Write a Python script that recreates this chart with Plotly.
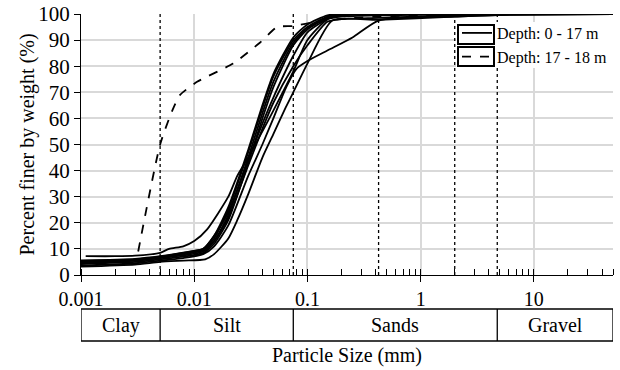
import numpy as np
import plotly.graph_objects as go

# ---- data (particle size in mm, percent finer) ----
c1_d = [0.0011, 0.002, 0.003, 0.005, 0.006, 0.008, 0.010, 0.013, 0.020, 0.024, 0.030, 0.040, 0.050, 0.075, 0.100, 0.150, 0.200, 0.425, 50]
c1_p = [7.2, 7.2, 7.4, 8.5, 10.0, 11.0, 13.0, 17.5, 30.0, 38.0, 45.0, 55.0, 63.0, 78.0, 90.0, 98.0, 99.5, 100, 100]

c2_d = [0.001, 0.003, 0.005, 0.008, 0.012, 0.015, 0.020, 0.030, 0.040, 0.050, 0.075, 0.100, 0.150, 0.200, 50]
c2_p = [5.0, 5.8, 6.8, 8.0, 9.5, 14.0, 25.0, 47.0, 64.0, 76.0, 90.0, 95.0, 99.0, 100, 100]

c3_d = [0.001, 0.003, 0.005, 0.008, 0.012, 0.015, 0.020, 0.030, 0.040, 0.050, 0.075, 0.100, 0.150, 0.200, 50]
c3_p = [4.5, 5.5, 6.5, 7.5, 9.0, 13.0, 23.0, 45.0, 62.0, 74.0, 89.0, 94.5, 98.5, 99.8, 100]

c4_d = [0.001, 0.003, 0.005, 0.008, 0.012, 0.015, 0.020, 0.030, 0.040, 0.050, 0.075, 0.100, 0.150, 0.250, 50]
c4_p = [4.2, 5.0, 6.0, 7.0, 8.5, 12.0, 21.0, 43.0, 60.0, 72.0, 88.0, 94.0, 98.5, 99.8, 100]

c5_d = [0.001, 0.003, 0.005, 0.008, 0.012, 0.015, 0.020, 0.030, 0.040, 0.050, 0.075, 0.100, 0.150, 0.200, 0.425, 4.75, 50]
c5_p = [5.3, 6.0, 7.0, 8.5, 10.0, 15.0, 24.0, 44.0, 58.0, 68.0, 84.0, 93.0, 98.0, 99.0, 99.5, 100, 100]

c6_d = [0.001, 0.003, 0.005, 0.008, 0.012, 0.015, 0.020, 0.030, 0.040, 0.050, 0.065, 0.080, 0.100, 0.150, 0.250, 0.425, 2.0, 4.75, 50]
c6_p = [3.6, 4.5, 5.5, 6.5, 8.0, 11.0, 19.0, 38.0, 50.0, 60.0, 72.0, 79.0, 82.0, 86.0, 91.0, 97.5, 99.0, 99.6, 100]

c7_d = [0.001, 0.003, 0.005, 0.008, 0.0125, 0.015, 0.020, 0.024, 0.030, 0.040, 0.050, 0.064, 0.075, 0.100, 0.166, 0.425, 2.0, 4.75, 50]
c7_p = [3.2, 4.0, 5.0, 5.5, 6.0, 8.0, 14.0, 21.0, 31.0, 45.0, 54.0, 64.0, 70.0, 81.0, 97.5, 97.8, 99.0, 99.6, 100]

c8_d = [0.001, 0.003, 0.005, 0.008, 0.012, 0.015, 0.020, 0.030, 0.040, 0.050, 0.075, 0.100, 0.150, 0.200, 0.425, 4.75, 50]
c8_p = [4.8, 5.6, 6.6, 8.0, 9.5, 13.0, 22.0, 42.0, 56.0, 66.0, 80.0, 88.0, 97.0, 98.0, 98.5, 100, 100]

c9_d = [0.001, 0.003, 0.005, 0.008, 0.012, 0.015, 0.020, 0.030, 0.040, 0.050, 0.075, 0.100, 0.150, 0.200, 50]
c9_p = [5.6, 6.2, 7.2, 8.6, 10.0, 15.0, 26.0, 48.0, 65.0, 77.0, 91.0, 96.0, 99.5, 100, 100]

deep_d = [0.0032, 0.005, 0.0064, 0.0075, 0.0106, 0.022, 0.038, 0.054, 0.075, 0.12, 0.25, 1.0, 5.0, 50]
deep_p = [9.0, 50.0, 63.0, 69.0, 74.0, 81.0, 89.0, 95.0, 95.4, 97.0, 98.5, 99.5, 100, 100]

shallow_curves = [(c1_d, c1_p), (c2_d, c2_p), (c3_d, c3_p), (c4_d, c4_p), (c5_d, c5_p),
                  (c6_d, c6_p), (c7_d, c7_p), (c8_d, c8_p), (c9_d, c9_p)]

boundary_sizes = [0.005, 0.075, 0.425, 2.0, 4.75]
soil_bounds = [0.001, 0.005, 0.075, 4.75, 50]
soil_names = ["Clay", "Silt", "Sands", "Gravel"]

x_ticks = [0.001, 0.01, 0.1, 1, 10]
x_tick_labels = ["0.001", "0.01", "0.1", "1", "10"]
y_ticks = list(range(0, 101, 10))

FONT = "Liberation Serif, Times New Roman, serif"

fig = go.Figure()

# dotted boundary lines
for b in boundary_sizes:
    fig.add_trace(go.Scatter(x=[b, b], y=[0, 100], mode="lines",
                             line=dict(color="black", width=1.3, dash="dot"),
                             showlegend=False, hoverinfo="skip"))

for i, (d, p) in enumerate(shallow_curves):
    fig.add_trace(go.Scatter(x=d, y=p, mode="lines",
                             line=dict(color="black", width=1.8, shape="spline", smoothing=0.6),
                             name="Depth: 0 - 17 m", legendgroup="a",
                             showlegend=(i == 0)))

fig.add_trace(go.Scatter(x=deep_d, y=deep_p, mode="lines",
                         line=dict(color="black", width=1.8, dash="dash", shape="spline", smoothing=0.6),
                         name="Depth: 17 - 18 m", legendgroup="a"))

# geometry
W, H = 620, 370
ml, mr, mt, mb = 81, 7, 14, 95
pw = W - ml - mr
ph = H - mt - mb


def px_x(px):
    return (px - ml) / pw


def px_y(py):
    return (H - mb - py) / ph


# soil classification box under axis
box_top = px_y(309)
box_bot = px_y(341)
fig.add_shape(type="rect", xref="x", yref="paper", x0=soil_bounds[0], x1=soil_bounds[-1],
              y0=box_bot, y1=box_top, line=dict(color="black", width=1.3))
for v in soil_bounds[1:-1]:
    fig.add_shape(type="line", xref="x", yref="paper", x0=v, x1=v, y0=box_bot, y1=box_top,
                  line=dict(color="black", width=1.3))
lb = np.log10(soil_bounds)
for name, a, b in zip(soil_names, lb[:-1], lb[1:]):
    fig.add_annotation(x=(a + b) / 2, y=(box_top + box_bot) / 2, xref="x", yref="paper",
                       text=name, showarrow=False, font=dict(size=20, color="black", family=FONT),
                       yanchor="middle")

fig.add_annotation(x=0.5, y=px_y(355), xref="paper", yref="paper", text="Particle Size (mm)",
                   showarrow=False, yanchor="middle", font=dict(size=20, color="black", family=FONT))
fig.add_annotation(x=px_x(27), y=0.5, xref="paper", yref="paper",
                   text="Percent finer by weight (%)", textangle=-90, showarrow=False,
                   xanchor="center", font=dict(size=20, color="black", family=FONT))

# legend background and boxes around legend symbols (Excel style)
fig.add_shape(type="rect", xref="paper", yref="paper", x0=px_x(456), x1=px_x(614),
              y0=px_y(68), y1=px_y(22), line=dict(width=0), fillcolor="white", layer="above")
for y0, y1 in [(25, 44), (47, 66)]:
    fig.add_shape(type="rect", xref="paper", yref="paper", x0=px_x(458), x1=px_x(494),
                  y0=px_y(y1), y1=px_y(y0), line=dict(color="black", width=2), layer="above")

fig.update_layout(
    width=W, height=H,
    margin=dict(l=ml, r=mr, t=mt, b=mb, autoexpand=False),
    paper_bgcolor="white", plot_bgcolor="white",
    font=dict(family=FONT, size=20, color="black"),
    legend=dict(x=px_x(457), y=px_y(16), xanchor="left", yanchor="top",
                bgcolor="rgba(0,0,0,0)", borderwidth=0, font=dict(size=16, family=FONT),
                tracegroupgap=0, itemwidth=30),
    xaxis=dict(type="log", range=[np.log10(0.001), np.log10(50)],
               tickvals=x_ticks, ticktext=x_tick_labels,
               showgrid=True, gridcolor="#d9d9d9", gridwidth=1.5,
               showline=True, linecolor="black", linewidth=1.3,
               ticks="outside", ticklen=6, tickcolor="black", tickwidth=1.3,
               minor=dict(ticks="inside", ticklen=6, tickcolor="black", tickwidth=1.3,
                          dtick="D1", showgrid=False),
               zeroline=False, tickfont=dict(size=20)),
    yaxis=dict(range=[0, 100], tickvals=y_ticks,
               showgrid=True, gridcolor="#d9d9d9", gridwidth=1.5,
               showline=True, linecolor="black", linewidth=1.3,
               ticks="outside", ticklen=6, tickcolor="black", tickwidth=1.3,
               zeroline=False, tickfont=dict(size=21)),
)

fig.write_html("out.html", config={"displayModeBar": False},
               post_script="document.body.style.margin='0px';")
